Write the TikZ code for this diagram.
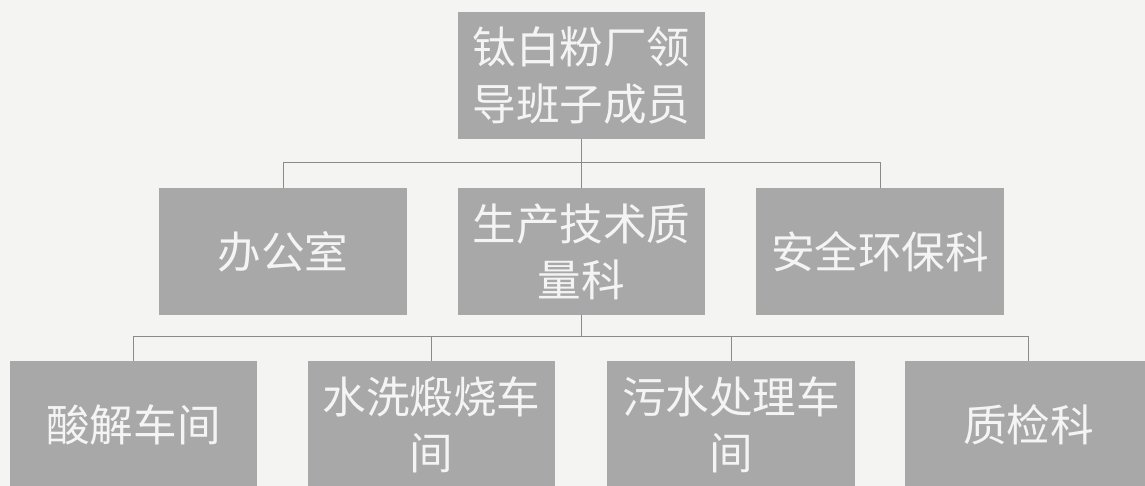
\documentclass[tikz,border=0pt]{standalone}
\usepackage{fontspec}
\newfontfamily\cjk{Noto Sans CJK SC}
\usepackage{xcolor}
\usepackage{tikz}
\usetikzlibrary{positioning}

\definecolor{paper}{RGB}{244,244,242}
\definecolor{boxgray}{RGB}{168,168,168}
\definecolor{linegray}{RGB}{138,138,138}
\definecolor{labelwhite}{RGB}{244,244,244}

\begin{document}
\begin{tikzpicture}[
  x=0.025cm, y=-0.025cm,
  font=\cjk\fontsize{31}{40}\selectfont,
  unit/.style={
    fill=boxgray,
    text=labelwhite,
    align=center,
    inner sep=0pt,
    minimum width=6.175cm,
    minimum height=3.15cm
  },
  link/.style={
    draw=linegray,
    line width=0.6pt
  }
]

% Page
\useasboundingbox (0,0) rectangle (1145,486);
\fill[paper] (0,0) rectangle (1145,486);

% Bus lines
\coordinate (bus1) at (0,162);
\coordinate (bus2) at (0,336);

% Top
\node[unit] (lead) at (581.5,75.5) {钛白粉厂领\\导班子成员};

% Departments
\node[unit] (office) at (283,251.5) {办公室};
\node[unit] (tech)   at (581.5,251.5) {生产技术质\\量科};
\node[unit] (safety) at (880,251.5) {安全环保科};

% Workshops
\node[unit] (acid)   at (133.5,424.5) {酸解车间};
\node[unit] (wash)   at (431.5,424.5) {水洗煅烧车\\间};
\node[unit] (sewage) at (731,424.5) {污水处理车\\间};
\node[unit] (qc)     at (1028.5,424.5) {质检科};

% Connectors
\foreach \n in {office, tech, safety} {
  \draw[link] (lead.south) -- (lead.south |- bus1) -| (\n.north);
}
\foreach \n in {acid, wash, sewage, qc} {
  \draw[link] (tech.south) -- (tech.south |- bus2) -| (\n.north);
}

\end{tikzpicture}
\end{document}
